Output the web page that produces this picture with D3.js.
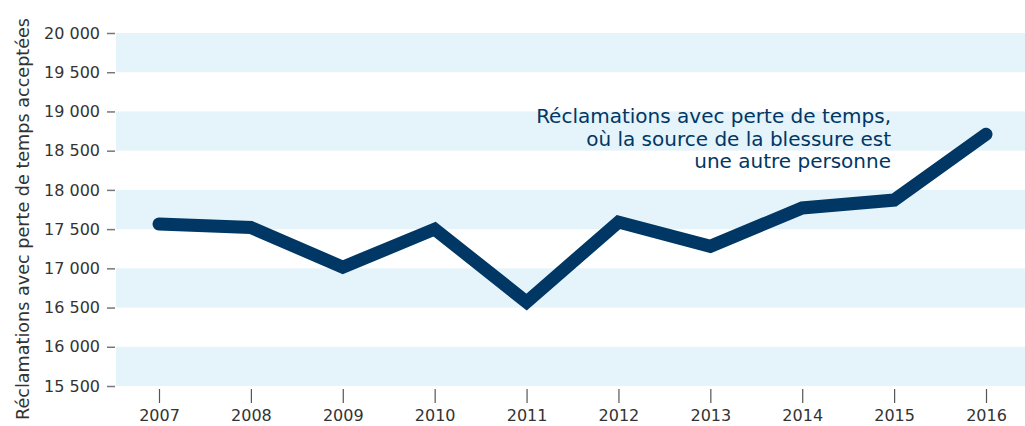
<!DOCTYPE html>
<html><head><meta charset="utf-8">
<script src="https://cdn.jsdelivr.net/npm/d3@7"></script>
<style>body{margin:0;background:#fff;} text{font-family:"DejaVu Sans", sans-serif;}</style>
</head><body>
<svg id="c" width="1025" height="426"></svg>
<script>
const years = ["2007","2008","2009","2010","2011","2012","2013","2014","2015","2016"];
const claims = [17565, 17520, 17015, 17500, 16570, 17590, 17280, 17770, 17870, 18710];
const yTicks = [15500,16000,16500,17000,17500,18000,18500,19000,19500,20000];
const bands = [[19500,20000],[18500,19000],[17500,18000],[16500,17000],[15500,16000]];
const annotation = ["Réclamations avec perte de temps,","où la source de la blessure est","une autre personne"];
const yTitle = "Réclamations avec perte de temps acceptées";

(function(){
const svg = d3.select("#c");
const mLeft = 116, mRight = 1025, mTop = 33, mBottom = 386;
const x = d3.scalePoint().domain(years).range([159, 986]);
const y = d3.scaleLinear().domain([15500, 20000]).range([mBottom, mTop]);
const FONT = "'DejaVu Sans', sans-serif";

svg.append("g").selectAll("rect").data(bands).join("rect")
  .attr("x", mLeft).attr("width", mRight-mLeft)
  .attr("y", d=>y(d[1])).attr("height", d=>y(d[0])-y(d[1]))
  .attr("fill", "#e5f3fb");

const fmt = v => d3.format(",")(v).replace(",", " ");
const ya = svg.append("g").attr("transform", `translate(${mLeft-1},0)`)
  .call(d3.axisLeft(y).tickValues(yTicks).tickFormat(fmt).tickSize(8).tickPadding(7));
ya.select(".domain").remove();
ya.selectAll("line").attr("stroke","#777").attr("stroke-width",1.5);
ya.selectAll("text").attr("font-size",16).attr("fill","#333").attr("font-family",FONT);

const xa = svg.append("g").attr("transform", `translate(0,389)`)
  .call(d3.axisBottom(x).tickSize(14).tickPadding(7));
xa.select(".domain").remove();
xa.selectAll("line").attr("stroke","#555").attr("stroke-width",1.2);
xa.selectAll("text").attr("font-size",16).attr("fill","#333").attr("font-family",FONT);

svg.append("path").datum(claims)
  .attr("d", d3.line().x((d,i)=>x(years[i])).y(d=>y(d)))
  .attr("fill","none").attr("stroke","#003764").attr("stroke-width",13)
  .attr("stroke-linecap","round").attr("stroke-linejoin","miter");

svg.append("text").attr("transform","translate(29,219) rotate(-90)")
  .attr("text-anchor","middle").attr("font-size",17.6).attr("fill","#333")
  .attr("font-family",FONT).text(yTitle);

svg.append("g").selectAll("text").data(annotation).join("text")
  .attr("x", 891).attr("y", (d,i)=>123 + i*22.5)
  .attr("text-anchor","end").attr("font-size",20).attr("fill","#003764")
  .attr("font-family",FONT).text(d=>d);
})();
</script>
</body></html>
